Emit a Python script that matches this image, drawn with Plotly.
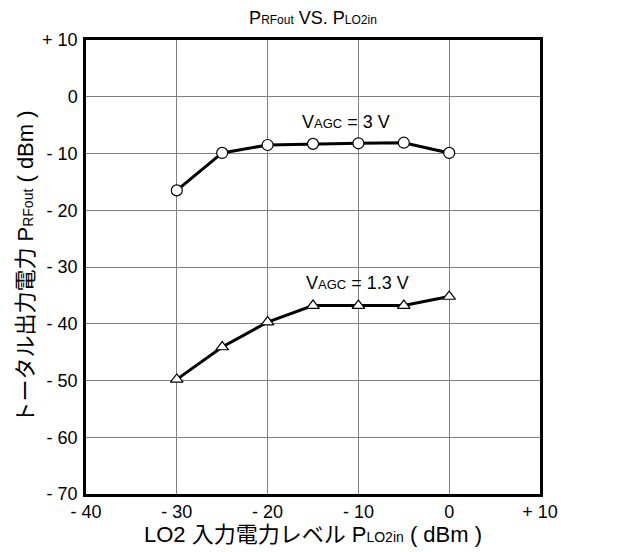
import plotly.graph_objects as go

x_vals = [-30, -25, -20, -15, -10, -5, 0]
p_3v = [-16.5, -9.9, -8.5, -8.3, -8.2, -8.1, -9.9]
p_13v = [-49.8, -44.1, -39.7, -36.8, -36.8, -36.8, -35.2]

x_ticks = [-40, -30, -20, -10, 0, 10]
x_labels = ["- 40", "- 30", "- 20", "- 10", "0", "+ 10"]
y_ticks = [10, 0, -10, -20, -30, -40, -50, -60, -70]
y_labels = ["+ 10", "0", "- 10", "- 20", "- 30", "- 40", "- 50", "- 60", "- 70"]

FONT = "Liberation Sans, Arial, Noto Sans CJK JP, sans-serif"


def small(t, s=12):
    return "<span style='font-size:%dpx'>%s</span>" % (s, t)


fig = go.Figure()
fig.add_trace(go.Scatter(x=x_vals, y=p_3v, mode="lines+markers",
                         line=dict(color="black", width=3),
                         marker=dict(symbol="circle", size=11, color="white",
                                     line=dict(color="black", width=1.2)),
                         showlegend=False))
fig.add_trace(go.Scatter(x=x_vals, y=p_13v, mode="lines+markers",
                         line=dict(color="black", width=3),
                         marker=dict(symbol="triangle-up", size=11, color="white",
                                     line=dict(color="black", width=1.2)),
                         showlegend=False))

fig.add_annotation(x=-11.4, y=-4.45, text="V" + small("AGC", 13) + " = 3 V", showarrow=False,
                   font=dict(size=18, color="black", family=FONT))
fig.add_annotation(x=-10.1, y=-32.8, text="V" + small("AGC", 13) + " = 1.3 V", showarrow=False,
                   font=dict(size=18, color="black", family=FONT))

fig.update_layout(
    width=614, height=544,
    margin=dict(l=78, r=82, t=32, b=58),
    paper_bgcolor="white", plot_bgcolor="white",
    font=dict(family=FONT, size=18, color="black"),
    title=dict(text="P" + small("RFout") + " VS. P" + small("LO2in"),
               x=(313 - 8) / 614, xanchor="center",
               y=1 - 10 / 544, yanchor="middle",
               font=dict(size=18, family=FONT, color="black")),
    xaxis=dict(range=[-40, 10], tickvals=x_ticks, ticktext=x_labels,
               tickfont=dict(size=18, family=FONT, color="black"),
               showgrid=True, gridcolor="#808080", gridwidth=1,
               showline=True, linecolor="black", linewidth=2.5, mirror=True,
               ticks="", zeroline=False, ticklabelstandoff=0, automargin=False,
               title=dict(text="LO2 入力電力レベル P" + small("LO2in", 14) + " ( dBm )", standoff=6,
                          font=dict(size=22, family=FONT, color="black"))),
    yaxis=dict(range=[-70, 10], tickvals=y_ticks, ticktext=y_labels,
               tickfont=dict(size=18, family=FONT, color="black"),
               showgrid=True, gridcolor="#808080", gridwidth=1,
               showline=True, linecolor="black", linewidth=2.5, mirror=True,
               ticks="", zeroline=False, ticklabelstandoff=2, automargin=False,
               title=dict(text="トータル出力電力 P" + small("RFout", 14) + " ( dBm )", standoff=3,
                          font=dict(size=22, family=FONT, color="black"))),
)

fig.write_html("out.html")
